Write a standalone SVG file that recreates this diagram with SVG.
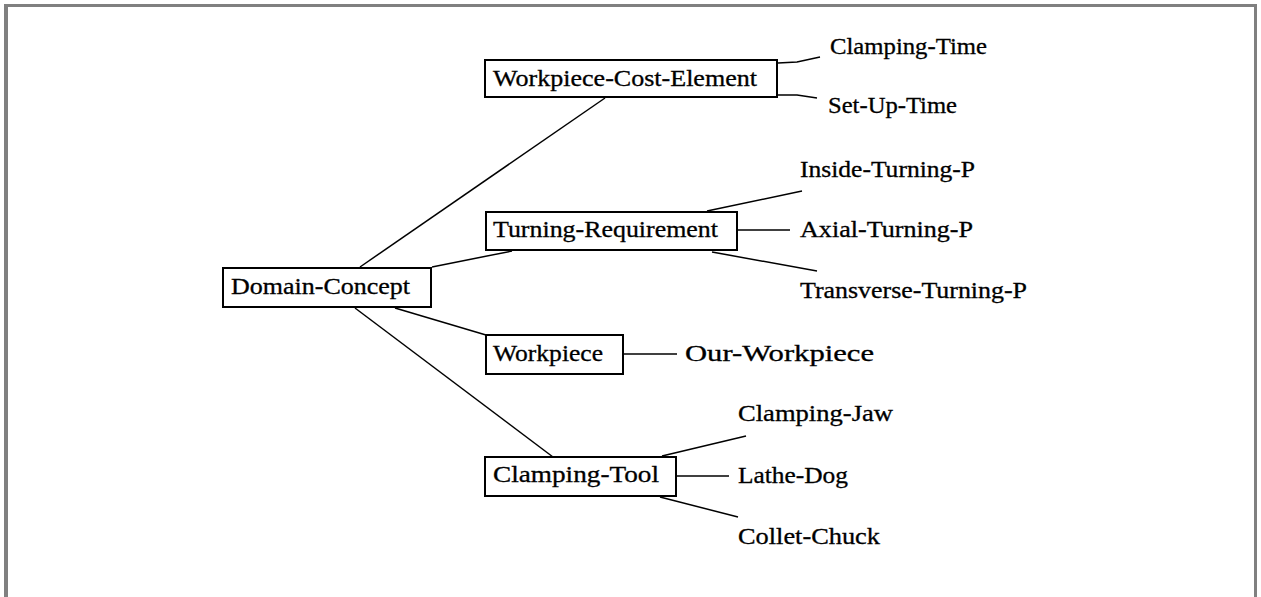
<svg xmlns="http://www.w3.org/2000/svg" width="1261" height="597" viewBox="0 0 1261 597">
<style>
.frame{fill:#808080}
.box{fill:#fff;stroke:#000;stroke-width:2}
.lbl{font-family:"Liberation Serif","Times New Roman",serif;font-size:23px;fill:#000;stroke:#000;stroke-width:0.3}
.con{fill:none;stroke:#000;stroke-width:1.5}
</style>
<rect width="1261" height="597" fill="#fff"/>
<g id="frame">
<rect class="frame" x="4" y="4" width="1253" height="3"/>
<rect class="frame" x="4" y="4" width="4" height="593"/>
<rect class="frame" x="1254" y="4" width="3" height="593"/>
</g>
<g id="connectors">
<line class="con" x1="360" y1="267" x2="605" y2="98"/>
<line class="con" x1="432" y1="267" x2="512" y2="251"/>
<line class="con" x1="395" y1="308" x2="486" y2="335"/>
<line class="con" x1="355" y1="308" x2="553" y2="457"/>
<polyline class="con" points="778,63 797,62 820,57"/>
<polyline class="con" points="778,95 797,95 817,98"/>
<line class="con" x1="707" y1="211" x2="802" y2="191"/>
<line class="con" x1="738" y1="230" x2="790" y2="230"/>
<line class="con" x1="712" y1="252" x2="817" y2="271"/>
<line class="con" x1="624" y1="354" x2="677" y2="354"/>
<line class="con" x1="662" y1="456" x2="746" y2="436"/>
<line class="con" x1="677" y1="476" x2="729" y2="476"/>
<line class="con" x1="660" y1="497" x2="738" y2="517"/>
</g>
<g id="n-domain-concept">
<rect class="box" x="223" y="268" width="208" height="39"/>
<text class="lbl" x="231" y="294" textLength="179" lengthAdjust="spacingAndGlyphs">Domain-Concept</text>
</g>
<g id="n-workpiece-cost-element">
<rect class="box" x="485" y="60" width="292" height="37"/>
<text class="lbl" x="493" y="86" textLength="264" lengthAdjust="spacingAndGlyphs">Workpiece-Cost-Element</text>
</g>
<g id="n-turning-requirement">
<rect class="box" x="486" y="212" width="251" height="38"/>
<text class="lbl" x="493" y="237" textLength="225" lengthAdjust="spacingAndGlyphs">Turning-Requirement</text>
</g>
<g id="n-workpiece">
<rect class="box" x="486" y="335" width="137" height="39"/>
<text class="lbl" x="493" y="361" textLength="110" lengthAdjust="spacingAndGlyphs">Workpiece</text>
</g>
<g id="n-clamping-tool">
<rect class="box" x="485" y="457" width="191" height="39"/>
<text class="lbl" x="493" y="482" textLength="166" lengthAdjust="spacingAndGlyphs">Clamping-Tool</text>
</g>
<g id="n-clamping-time"><text class="lbl" x="830" y="54" textLength="157" lengthAdjust="spacingAndGlyphs">Clamping-Time</text></g>
<g id="n-set-up-time"><text class="lbl" x="828" y="113" textLength="129" lengthAdjust="spacingAndGlyphs">Set-Up-Time</text></g>
<g id="n-inside-turning-p"><text class="lbl" x="800" y="177" textLength="175" lengthAdjust="spacingAndGlyphs">Inside-Turning-P</text></g>
<g id="n-axial-turning-p"><text class="lbl" x="800" y="237" textLength="173" lengthAdjust="spacingAndGlyphs">Axial-Turning-P</text></g>
<g id="n-transverse-turning-p"><text class="lbl" x="800" y="298" textLength="227" lengthAdjust="spacingAndGlyphs">Transverse-Turning-P</text></g>
<g id="n-our-workpiece"><text class="lbl" x="685" y="361" textLength="189" lengthAdjust="spacingAndGlyphs">Our-Workpiece</text></g>
<g id="n-clamping-jaw"><text class="lbl" x="738" y="421" textLength="155" lengthAdjust="spacingAndGlyphs">Clamping-Jaw</text></g>
<g id="n-lathe-dog"><text class="lbl" x="738" y="483" textLength="110" lengthAdjust="spacingAndGlyphs">Lathe-Dog</text></g>
<g id="n-collet-chuck"><text class="lbl" x="738" y="544" textLength="142" lengthAdjust="spacingAndGlyphs">Collet-Chuck</text></g>
</svg>
